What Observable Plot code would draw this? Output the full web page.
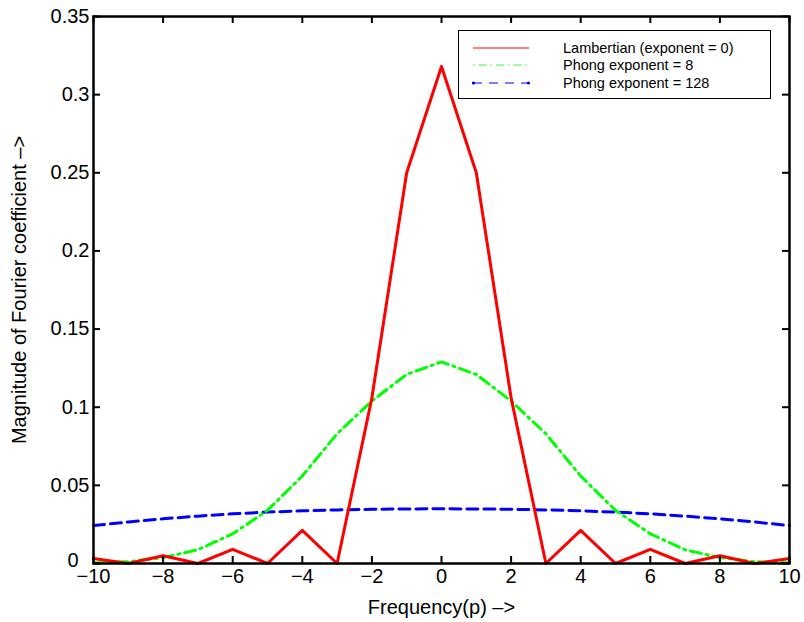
<!DOCTYPE html>
<html>
<head>
<meta charset="utf-8">
<script src="https://cdn.jsdelivr.net/npm/d3@7"></script>
<script src="https://cdn.jsdelivr.net/npm/@observablehq/plot@0.6"></script>
<style>
  html, body { margin: 0; padding: 0; background: #fff; }
  #wrap { position: relative; width: 804px; height: 622px; font-family: "Liberation Sans", Arial, Helvetica, sans-serif; }
  #legend { position: absolute; left: 458px; top: 30px; width: 311px; height: 67px; border: 1px solid #000; background: #fff; box-sizing: content-box; }
  #legend .row { position: absolute; left: 0; height: 18px; width: 311px; }
  #legend svg { position: absolute; left: 13px; top: 0; }
  #legend span { position: absolute; left: 104px; top: 0; font-size: 14.5px; line-height: 18px; color: #000; white-space: nowrap; }
</style>
</head>
<body>
<div id="wrap"></div>
<script>
// ---- data ----
const frequency = [-10,-9,-8,-7,-6,-5,-4,-3,-2,-1,0,1,2,3,4,5,6,7,8,9,10];
const lambertian = [0.0032,0,0.0050,0,0.0091,0,0.0212,0,0.106,0.25,0.318,0.25,0.106,0,0.0212,0,0.0091,0,0.0050,0,0.0032];
const phong8 = [0.0004,0.0012,0.0038,0.0088,0.019,0.034,0.056,0.083,0.104,0.121,0.129,0.121,0.104,0.083,0.056,0.034,0.019,0.0088,0.0038,0.0012,0.0004];
const phong128 = [0.0243,0.0266,0.0286,0.0303,0.0318,0.0329,0.0337,0.0343,0.0347,0.0349,0.0350,0.0349,0.0347,0.0343,0.0337,0.0329,0.0318,0.0303,0.0286,0.0266,0.0243];
const seriesNames = ["Lambertian (exponent = 0)", "Phong exponent = 8", "Phong exponent = 128"];
const xTicks = [-10,-8,-6,-4,-2,0,2,4,6,8,10];
const yTicks = [0,0.05,0.1,0.15,0.2,0.25,0.3,0.35];
const xLabel = "Frequency(p) \u2013>";
const yLabel = "Magnitude of Fourier coefficient \u2013>";

const rows = (vals) => frequency.map((p, i) => ({p, v: vals[i]}));
const lam = rows(lambertian), ph8 = rows(phong8), ph128 = rows(phong128);

const W = 804, H = 622, mL = 93, mR = 15, mT = 16, mB = 59;
const pw = W - mL - mR, ph = H - mT - mB, tl = 7;

const yFmt = d => d === 0 ? "0" : String(+d.toFixed(2));
const xFmt = d => d < 0 ? "\u2212" + Math.abs(d) : String(d);
const yTicksNonZero = yTicks.filter(d => d !== 0);
const yTicksZero = yTicks.filter(d => d === 0);

const chart = Plot.plot({
  width: W, height: H,
  marginLeft: mL, marginRight: mR, marginTop: mT, marginBottom: mB,
  style: { fontFamily: '"Liberation Sans", Arial, Helvetica, sans-serif', fontSize: "20px", color: "#000", background: "#fff" },
  x: { domain: [-10, 10] },
  y: { domain: [0, 0.35] },
  marks: [
    Plot.line(ph128, {x: "p", y: "v", stroke: "#0000ff", strokeWidth: 3, strokeDasharray: "11,6"}),
    Plot.line(ph8, {x: "p", y: "v", stroke: "#00ff00", strokeWidth: 3, strokeDasharray: "11,5,2,5"}),
    Plot.line(lam, {x: "p", y: "v", stroke: "#ff0000", strokeWidth: 3}),
    // inward ticks on all four sides
    Plot.tickX(xTicks, {x: d => d, stroke: "#000", strokeWidth: 2, insetTop: ph - tl}),
    Plot.tickX(xTicks, {x: d => d, stroke: "#000", strokeWidth: 2, insetBottom: ph - tl}),
    Plot.tickY(yTicks, {y: d => d, stroke: "#000", strokeWidth: 2, insetRight: pw - tl}),
    Plot.tickY(yTicks, {y: d => d, stroke: "#000", strokeWidth: 2, insetLeft: pw - tl}),
    Plot.axisX({ticks: xTicks, tickFormat: xFmt, tickSize: 0, tickPadding: 5, fontSize: 20,
      label: xLabel, labelAnchor: "center", labelArrow: "none", labelOffset: 50}),
    Plot.axisY({ticks: yTicksNonZero, tickFormat: yFmt, tickSize: 0, tickPadding: 4, fontSize: 20,
      label: yLabel, labelAnchor: "center", labelArrow: "none", labelOffset: 82}),
    Plot.axisY({ticks: yTicksZero, tickFormat: yFmt, tickSize: 0, tickPadding: 15, dy: -3, fontSize: 20, label: null}),
    Plot.frame({stroke: "#000", strokeWidth: 2.5})
  ]
});

const wrap = document.getElementById("wrap");
wrap.appendChild(chart);

// legend
const legend = document.createElement("div");
legend.id = "legend";
const styles = [
  {stroke: "#ff0000", dash: null, dots: false},
  {stroke: "#33ff33", dash: "1.5,4,8,4", dots: false},
  {stroke: "#0000ff", dash: "9,7", dots: true}
];
const rowTops = [8, 25, 43];
seriesNames.forEach((name, i) => {
  const row = document.createElement("div");
  row.className = "row";
  row.style.top = rowTops[i] + "px";
  const s = styles[i];
  const svg = d3.create("svg").attr("width", 60).attr("height", 18);
  svg.append("line").attr("x1", 1).attr("x2", 57).attr("y1", 9).attr("y2", 9)
    .attr("stroke", s.stroke).attr("stroke-width", 1.2)
    .attr("stroke-dasharray", s.dash);
  if (s.dots) {
    [1.5, 56.5].forEach(cx => svg.append("circle").attr("cx", cx).attr("cy", 9).attr("r", 1.6).attr("fill", s.stroke));
  }
  row.appendChild(svg.node());
  const span = document.createElement("span");
  span.textContent = name;
  row.appendChild(span);
  legend.appendChild(row);
});
wrap.appendChild(legend);
</script>
</body>
</html>
